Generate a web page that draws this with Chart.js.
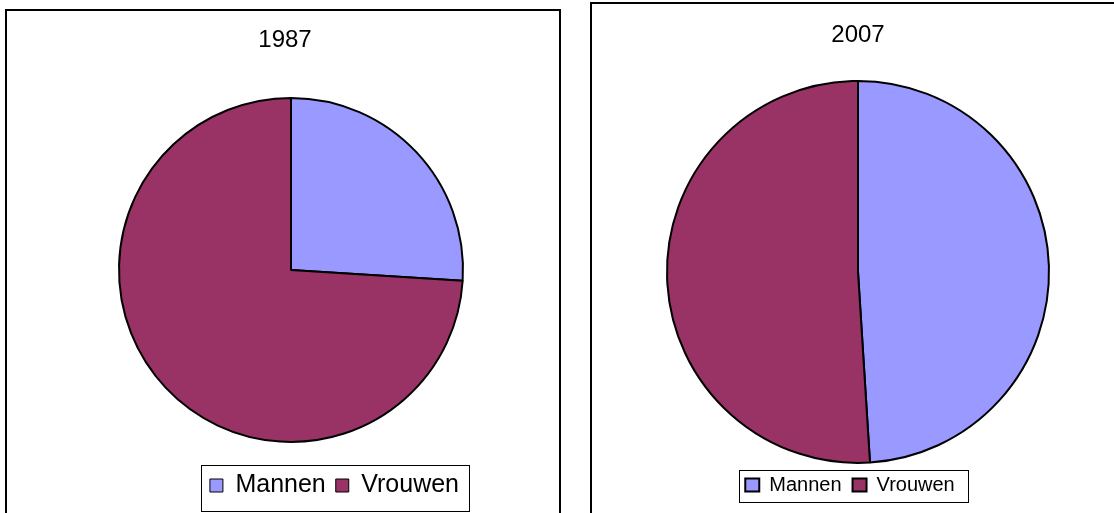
<!DOCTYPE html>
<html>
<head>
<meta charset="utf-8">
<script src="https://cdn.jsdelivr.net/npm/chart.js@4"></script>
<style>
  html, body { margin: 0; padding: 0; background: #fff; width: 1114px; height: 513px; overflow: hidden; }
  .panel { position: absolute; border: 2px solid #000; box-sizing: border-box; height: 600px; }
  canvas { position: absolute; }
</style>
</head>
<body>
<div class="panel" style="left:5px; top:9px; width:556px;"></div>
<div class="panel" style="left:590px; top:2px; width:600px;"></div>
<canvas id="pie1987" width="552" height="502" style="left:7px; top:11px;"></canvas>
<canvas id="pie2007" width="522" height="509" style="left:592px; top:4px;"></canvas>
<script>
const categories = ['Mannen', 'Vrouwen'];
const years = ['1987', '2007'];
const shares1987 = [26, 74];
const shares2007 = [49, 51];
const sliceColors = ['#9999FF', '#993366'];

Chart.defaults.font.family = "Arial, 'Liberation Sans', sans-serif";
Chart.defaults.color = '#000';

// nudges title / legend sideways (they are not centred on the pie in the original)
// and draws the thin box round the legend
const legendFrame = {
  id: 'legendFrame',
  afterLayout(chart, args, opts) {
    const lg = chart.legend, tb = chart.titleBlock;
    if (lg && opts.legendDx) { lg.left += opts.legendDx; lg.right += opts.legendDx; }
    if (tb && opts.titleDx) { tb.left += opts.titleDx; tb.right += opts.titleDx; }
  },
  afterDraw(chart, args, opts) {
    const boxes = chart.legend && chart.legend.legendHitBoxes;
    if (!boxes || !boxes.length) return;
    const left = Math.min(...boxes.map(b => b.left));
    const right = Math.max(...boxes.map(b => b.left + b.width));
    const top = Math.min(...boxes.map(b => b.top));
    const bottom = Math.max(...boxes.map(b => b.top + b.height));
    const ctx = chart.ctx;
    ctx.save();
    ctx.strokeStyle = '#000';
    ctx.lineWidth = 1;
    ctx.strokeRect(Math.round(left - opts.l) + 0.5, Math.round(top - opts.t) + 0.5,
      Math.round(right - left + opts.l + opts.r), Math.round(bottom - top + opts.t + opts.b));
    ctx.restore();
  }
};

function makePie(id, year, values, cfg) {
  new Chart(document.getElementById(id), {
    type: 'pie',
    data: {
      labels: categories,
      datasets: [{
        data: values,
        backgroundColor: sliceColors,
        borderColor: '#000',
        borderWidth: 2,
        hoverOffset: 0,
        radius: cfg.radius
      }]
    },
    options: {
      responsive: false,
      animation: false,
      events: [],
      layout: { padding: cfg.padding },
      plugins: {
        title: {
          display: true,
          text: year,
          font: { size: 24, weight: 'normal' },
          padding: cfg.titlePad
        },
        legend: {
          position: 'bottom',
          align: cfg.legendAlign,
          labels: {
            font: { size: cfg.legendFont },
            boxWidth: cfg.boxW,
            boxHeight: 13,
            padding: cfg.legendPad,
            generateLabels(chart) {
              const items = Chart.controllers.pie.overrides.plugins.legend.labels.generateLabels(chart);
              items.forEach(it => { it.lineWidth = cfg.boxLine; });
              return items;
            }
          }
        },
        tooltip: { enabled: false },
        legendFrame: cfg.frame
      }
    },
    plugins: [legendFrame]
  });
}

makePie('pie1987', years[0], shares1987, {
  radius: 172,
  padding: { left: 106, right: 90, top: 0, bottom: 5 },
  titlePad: { top: 15, bottom: 22 },
  legendAlign: 'end',
  legendFont: 25, boxW: 13, legendPad: 10, boxLine: 1,
  frame: { l: 9, r: 10, t: 8, b: 13, titleDx: -6 }
});

makePie('pie2007', years[1], shares2007, {
  radius: 191,
  padding: { left: 16, right: 6, top: 0, bottom: 8 },
  titlePad: { top: 17, bottom: 30 },
  legendAlign: 'center',
  legendFont: 20, boxW: 14, legendPad: 11, boxLine: 2,
  frame: { l: 6, r: 14, t: 5, b: 7, legendDx: -8 }
});
</script>
</body>
</html>
